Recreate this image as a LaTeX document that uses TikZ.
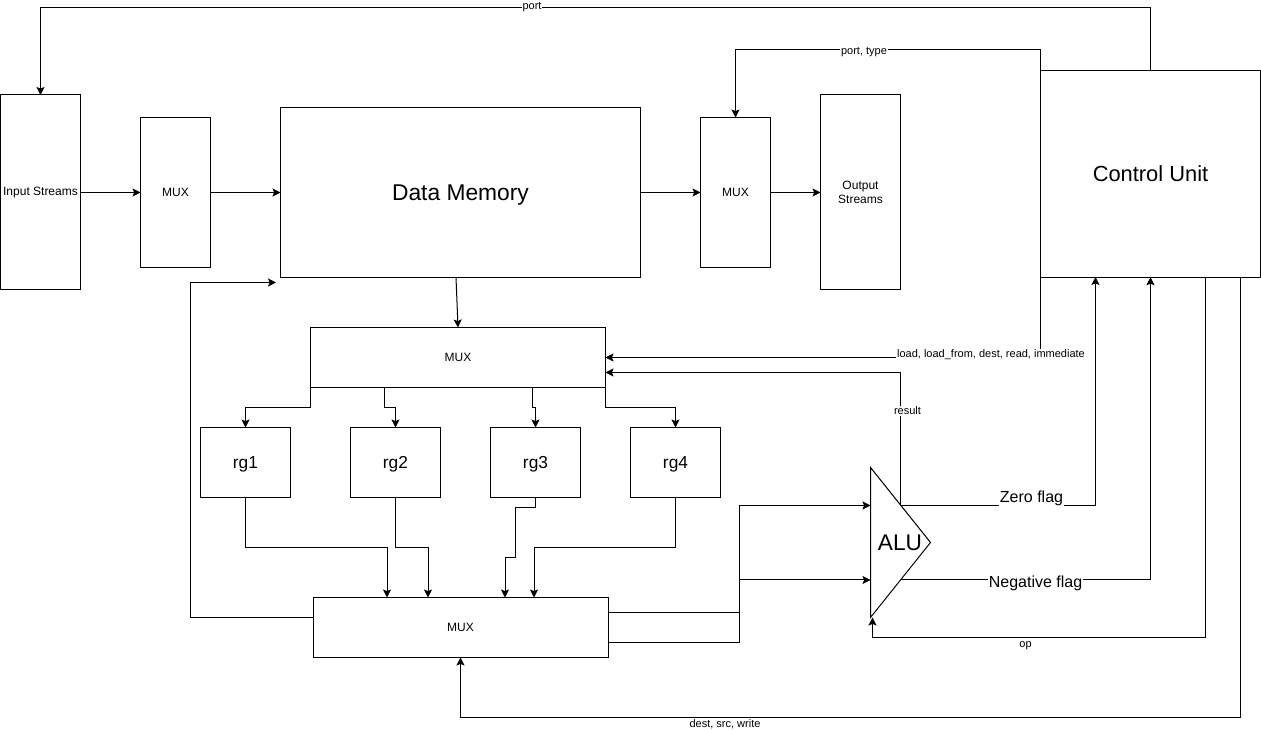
\documentclass[tikz,border=0pt]{standalone}
\usepackage{fontspec}
\setmainfont{Liberation Sans}
\usetikzlibrary{arrows.meta}
\tikzset{
    box/.style 2 args={draw, inner sep=0pt, outer sep=0pt, align=center, minimum width=#1*0.75pt, minimum height=#2*0.75pt},
    wire/.style={-{Stealth[length=6pt,width=6pt,inset=1.2pt]}},
    tag/.style={fill=white, inner sep=0.6pt, font=\fontsize{8.25}{10}\selectfont},
    bigtag/.style={fill=white, inner sep=0.6pt, font=\fontsize{12}{14}\selectfont},
    rgbox/.style={box={90}{70},text depth=0pt,font=\fontsize{13}{15}\selectfont}
}
\begin{document}
\begin{tikzpicture}[x=0.75pt,y=-0.75pt,line width=0.75pt,every node/.style={font=\fontsize{9}{11}\selectfont}]
    \useasboundingbox (0,0) rectangle (1261,730);
    % top row
    \node[box={80}{195}] (input) at (40.5,192.5) {Input Streams};
    \node[box={70}{150}] (muxin) at (175.5,192.5) {MUX};
    \node[box={360}{170},text depth=0pt,font=\fontsize{17.1}{20}\selectfont] (memory) at (460.5,192.5) {Data Memory};
    \node[box={70}{150}] (muxout) at (735.5,192.5) {MUX};
    \node[box={80}{195}] (output) at (860.5,192.5) {Output\\Streams};
    \node[box={220}{207},font=\fontsize{16.4}{18}\selectfont] (control) at (1150.5,173.75) {Control Unit};
    % registers and their muxes
    \node[box={295}{60}] (muxreg) at (458,357.5) {MUX};
    \node[rgbox] (rg1) at (245.5,462.5) {rg1};
    \node[rgbox] (rg2) at (395.5,462.5) {rg2};
    \node[rgbox] (rg3) at (535.5,462.5) {rg3};
    \node[rgbox] (rg4) at (675.5,462.5) {rg4};
    \node[box={295}{60}] (muxalu) at (460.5,627.5) {MUX};
    % alu
    \coordinate (alutop) at (870.5,467.5);
    \coordinate (alubot) at (870.5,617.5);
    \coordinate (alutip) at (930.5,542.5);
    \draw (alutop) -- (alutip) -- (alubot) -- cycle;
    \node[font=\fontsize{17}{20}\selectfont,inner sep=0pt] (alu) at (900,543) {ALU};
    \coordinate (aluina) at (870.5,505.5);
    \coordinate (aluinb) at (870.5,580);
    \coordinate (aluopin) at (872.5,617.5);
    \coordinate (aluflagz) at (900.5,505.5);
    \coordinate (aluflagn) at (900.5,580);
    % free ends on the boxes
    \coordinate (memout) at (456,277.5);
    \coordinate (memback) at (276,282.5);
    \coordinate (muxregload) at (605.5,357.5);
    \coordinate (muxregres) at (605.5,372.5);
    \coordinate (portlow) at (1040.5,70);
    % top row wires
    \draw[wire] (input.east) -- (muxin.west);
    \draw[wire] (muxin.east) -- (memory.west);
    \draw[wire] (memory.east) -- (muxout.west);
    \draw[wire] (muxout.east) -- (output.west);
    \draw[wire] (memout) -- (muxreg.north);
    % mux to registers
    \draw[wire] (muxreg.south west) -- (310.5,407.5) -- (245.5,407.5) -- (rg1.north);
    \draw[wire] (384,387.5) -- (384,407.5) -- (395.5,407.5) -- (rg2.north);
    \draw[wire] (532,387.5) -- (532,407.5) -- (535.5,407.5) -- (rg3.north);
    \draw[wire] (muxreg.south east) -- (605.5,407.5) -- (675.5,407.5) -- (rg4.north);
    % registers to mux
    \draw[wire] (rg1.south) -- (245.5,547.5) -- (387,547.5) -- (387,597.5);
    \draw[wire] (rg2.south) -- (395.5,547.5) -- (428,547.5) -- (428,597.5);
    \draw[wire] (rg3.south) -- (535.5,507.5) -- (515,507.5) -- (515,557.5) -- (505,557.5) -- (505,597.5);
    \draw[wire] (rg4.south) -- (675.5,547.5) -- (534,547.5) -- (534,597.5);
    % mux back to memory and to alu
    \draw[wire] (313,617.5) -- (190.5,617.5) -- (190.5,282.5) -- (memback);
    \draw[wire] (608,612.5) -- (739.5,612.5) -- (739.5,505.5) -- (aluina);
    \draw[wire] (608,642.5) -- (739.5,642.5) -- (739.5,580) -- (aluinb);
    % control lines
    \draw[wire] (control.north) -- (1150.5,7.5) -- (40.5,7.5) -- (input.north);
    \node[tag] (portlabel) at (532,7.5) {port};
    \draw[wire] (portlow) -- (1040.5,50) -- (735.5,50) -- (muxout.north);
    \node[tag] (typelabel) at (864,52) {port, type};
    \draw[wire] (1040.5,277) -- (1040.5,357.5) -- (muxregload);
    \node[tag] (loadlabel) at (991,355) {load, load\_from, dest, read, immediate};
    \draw[wire] (aluflagz) -- (900.5,372.5) -- (muxregres);
    \node[tag] (resultlabel) at (907.5,411) {result};
    \draw[wire] (aluflagz) -- (1095.5,505.5) -- (1095.5,277);
    \node[bigtag] (zerolabel) at (1031.5,498.5) {Zero flag};
    \draw[wire] (aluflagn) -- (1150.5,580) -- (control.south);
    \node[bigtag] (neglabel) at (1035.5,583.5) {Negative flag};
    \draw[wire] (1205.5,277) -- (1205.5,637.5) -- (872.5,637.5) -- (aluopin);
    \node[tag] (oplabel) at (1025.5,645.5) {op};
    \draw[wire] (1240.5,277) -- (1240.5,717.5) -- (460.5,717.5) -- (muxalu.south);
    \node[tag] (destlabel) at (725,724) {dest, src, write};
\end{tikzpicture}
\end{document}
